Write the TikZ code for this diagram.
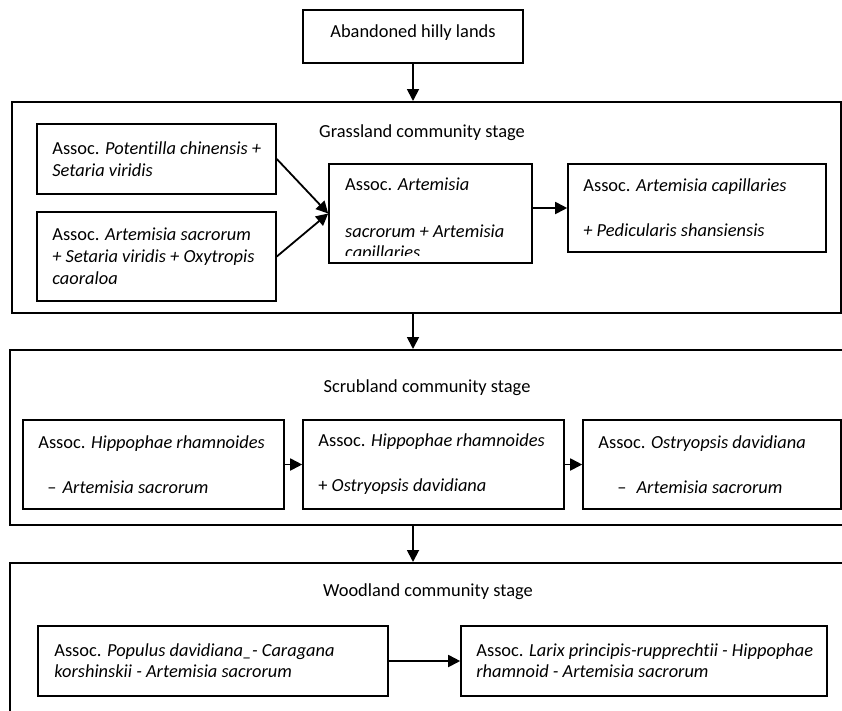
\documentclass[tikz,border=0pt]{standalone}
\usepackage{fontspec}
\setmainfont[Ligatures=NoCommon]{Carlito}
\usetikzlibrary{arrows.meta,positioning}

\tikzset{
  stagebox/.style={draw, line width=2pt, inner sep=0pt},
  assocbox/.style={draw, line width=1.6pt, inner sep=0pt},
  assoctext/.style={inner sep=0pt, align=left, font=\fontsize{18.4}{22}\selectfont},
  stagetext/.style={inner sep=0pt, font=\fontsize{18.4}{22}\selectfont},
  flow/.style={line width=1.8pt, -{Triangle[length=12pt,width=12pt]}},
}

\begin{document}
\begin{tikzpicture}[x=1pt,y=-1pt]
\useasboundingbox (0,0) rectangle (842,710);
\clip (0,0) rectangle (842,710);

% start
\node[assocbox, minimum width=220, minimum height=53] (top) at (413,36.5) {};
\node[stagetext] (topt) at (413,33) {Abandoned hilly lands};

% grassland stage
\node[stagebox, minimum width=829, minimum height=211] (grass) at (426.5,207.5) {};
\node[stagetext] (grasst) at (422,133) {Grassland community stage};
\node[assocbox, minimum width=239, minimum height=70] (g1) at (156.5,159) {};
\node[assoctext, right=16pt of g1.west] (g1t) {Assoc. \textit{Potentilla chinensis +}\\\textit{Setaria viridis}};
\node[assocbox, minimum width=239, minimum height=89] (g2) at (156.5,256.5) {};
\node[assoctext, right=16pt of g2.west] (g2t) {Assoc. \textit{Artemisia sacrorum}\\\textit{+ Setaria viridis + Oxytropis}\\\textit{caoraloa}};
\node[assocbox, minimum width=203, minimum height=99] (g3) at (430.5,213.5) {};
\begin{scope}
\clip (g3.north west) rectangle ([yshift=8pt]g3.south east);
\node[assoctext, anchor=base west] (g3a) at (345,190) {Assoc. \textit{Artemisia}};
\node[assoctext, anchor=base west] (g3b) at (345,237) {\textit{sacrorum + Artemisia}};
\node[assoctext, anchor=base west] (g3c) at (345,258) {\textit{capillaries}};
\end{scope}
\node[assocbox, minimum width=258, minimum height=88] (g4) at (697,208) {};
\node[assoctext, right=16pt of g4.west] (g4t) {Assoc. \textit{Artemisia capillaries}\\[23pt]\textit{+ Pedicularis shansiensis}};

% scrubland stage
\node[stagebox, minimum width=850, minimum height=175] (scrub) at (435,437.5) {};
\node[stagetext] (scrubt) at (427,388) {Scrubland community stage};
\node[assocbox, minimum width=261, minimum height=89] (s1) at (153.5,464.5) {};
\node[assoctext, right=16pt of s1.west] (s1t) {Assoc. \textit{Hippophae rhamnoides}\\[23pt]\hspace*{9pt}–\hspace{6pt}\textit{Artemisia sacrorum}};
\node[assocbox, minimum width=261, minimum height=89] (s2) at (433.5,464.5) {};
\node[assoctext, right=16pt of s2.west] (s2t) {Assoc. \textit{Hippophae rhamnoides}\\[23pt]+ \textit{Ostryopsis davidiana}};
\node[assocbox, minimum width=258, minimum height=89] (s3) at (712,464.5) {};
\node[assoctext, right=16pt of s3.west] (s3t) {Assoc. \textit{Ostryopsis davidiana}\\[23pt]\hspace*{19pt}–\hspace{10pt}\textit{Artemisia sacrorum}};

% woodland stage
\node[stagebox, minimum width=850, minimum height=177] (wood) at (435,651.5) {};
\node[stagetext] (woodt) at (428,592) {Woodland community stage};
\node[assocbox, minimum width=350, minimum height=70] (w1) at (213,661) {};
\node[assoctext, right=17pt of w1.west] (w1t) {Assoc. \textit{Populus davidiana\_- Caragana}\\[-1pt]\textit{korshinskii - Artemisia sacrorum}};
\node[assocbox, minimum width=366, minimum height=70] (w2) at (644,661) {};
\node[assoctext, right=16pt of w2.west] (w2t) {Assoc. \textit{Larix principis-rupprechtii - Hippophae}\\[-1pt]\textit{rhamnoid - Artemisia sacrorum}};

% connectors
\draw[flow] (top.south) -- (top.south |- grass.north);
\draw[flow] (top.south |- grass.south) -- (top.south |- scrub.north);
\draw[flow] (top.south |- scrub.south) -- (top.south |- wood.north);
\draw[flow] (g1.east) -- (g3.west);
\draw[flow] (g2.east) -- (g3.west);
\draw[flow] (g3.east |- g4.west) -- (g4.west);
\draw[flow] (s1) -- (s2);
\draw[flow] (s2) -- (s3);
\draw[flow] (w1) -- (w2);
\end{tikzpicture}
\end{document}
